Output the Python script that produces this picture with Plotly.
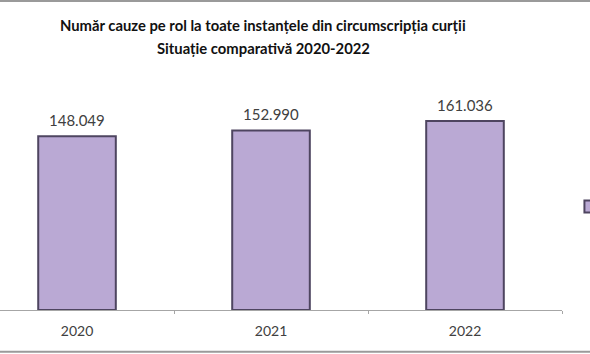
import plotly.graph_objects as go

years = ["2020", "2021", "2022"]
cases = [148049, 152990, 161036]
series_name = "Număr cauze pe rol"
title_lines = ["Număr cauze pe rol la toate instanțele din circumscripția curții",
               "Situație comparativă 2020-2022"]

fig = go.Figure()
fig.add_trace(go.Bar(
    x=years, y=cases, name=series_name,
    width=0.40,
    marker=dict(color="#baa9d4", line=dict(color="#4e4560", width=2)),
    cliponaxis=False, showlegend=True,
))

for i, v in enumerate(cases):
    fig.add_annotation(
        x=i, y=v, xref="x", yref="y", text=f"{v:,}".replace(",", "."),
        showarrow=False, yanchor="bottom", yshift=5,
        font=dict(family="Lato", size=15, color="#404040"),
    )

for i, line in enumerate(title_lines):
    fig.add_annotation(
        x=0.468, xref="paper", y=1.0, yref="paper", yanchor="middle",
        yshift=90 - 25 - 23 * i, text=line, showarrow=False,
        font=dict(family="Lato", size=14.8, color="#111111", weight="bold"),
    )

fig.update_layout(
    width=590, height=354,
    margin=dict(l=0, r=28, t=90, b=44, autoexpand=False),
    paper_bgcolor="white", plot_bgcolor="white",
    xaxis=dict(
        type="category", range=[-0.397, 2.5],
        showline=True, linecolor="#a6a6a6", linewidth=1,
        ticks="outside", tickcolor="#a6a6a6", ticklen=3,
        tickson="boundaries", ticklabelstandoff=8,
        tickfont=dict(family="Lato", size=14, color="#404040"),
        showgrid=False,
    ),
    yaxis=dict(range=[0, 187440], visible=False, showgrid=False),
    legend=dict(x=1.015, xanchor="left", y=0.47, yanchor="middle",
                font=dict(family="Lato", size=12, color="#404040"),
                bgcolor="rgba(0,0,0,0)"),
    shapes=[
        dict(type="line", xref="paper", yref="paper", x0=-0.01, x1=1.06, y0=1.404, y1=1.404,
             line=dict(color="#9a9a9a", width=2)),
        dict(type="line", xref="paper", yref="paper", x0=-0.01, x1=1.06, y0=-0.19, y1=-0.19,
             line=dict(color="#9a9a9a", width=2)),
    ],
)

fig.write_html("out.html")
